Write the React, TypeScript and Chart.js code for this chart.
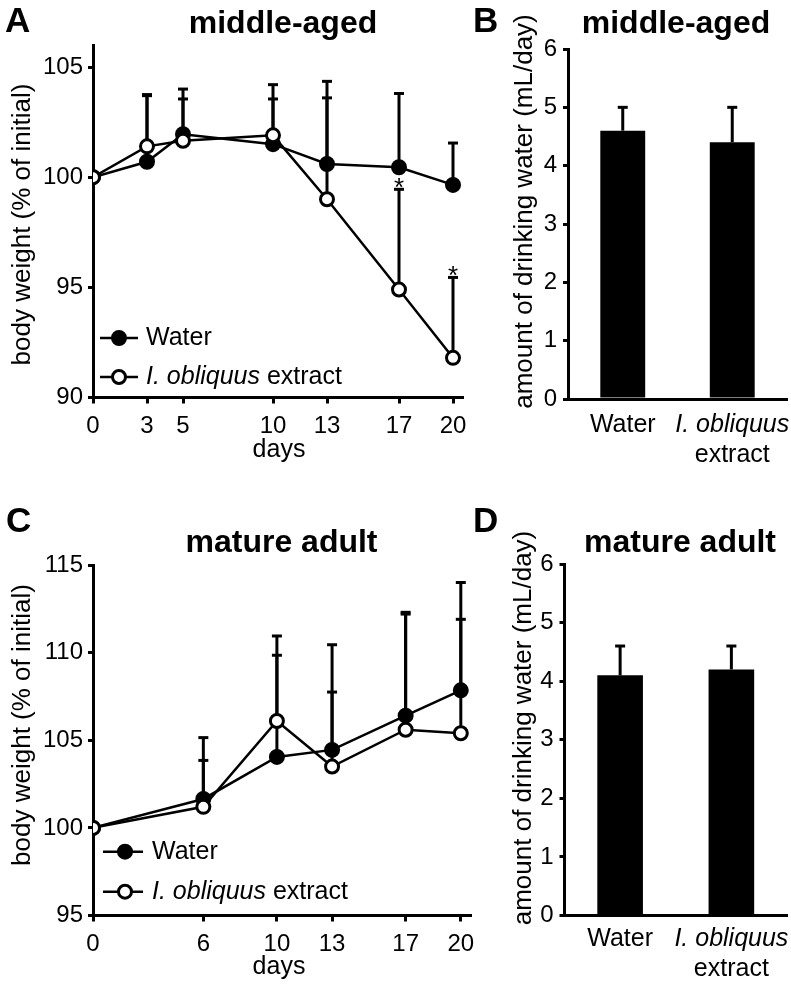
import React, { useEffect, useRef } from "react";
import { Chart, registerables } from "chart.js";

Chart.register(...registerables);

// ---------------- data ----------------
const daysA = [0, 3, 5, 10, 13, 17, 20];
const waterA = [100, 100.7, 101.95, 101.5, 100.6, 100.45, 99.65];
const waterAErr = [0, 3.05, 2.05, 2.7, 3.75, 3.35, 1.9];
const extractA = [100, 101.4, 101.65, 101.9, 99.0, 94.9, 91.8];
const extractAErr = [0, 2.3, 1.9, 1.65, 4.6, 4.55, 3.65];
const extractASig = [false, false, false, false, false, true, true];
const yTicksA = [90, 95, 100, 105];

const daysC = [0, 6, 10, 13, 17, 20];
const waterC = [100, 101.65, 104.05, 104.45, 106.4, 107.85];
const waterCErr = [0, 3.5, 5.8, 6.0, 5.9, 6.15];
const extractC = [100, 101.2, 106.1, 103.5, 105.6, 105.4];
const extractCErr = [0, 2.65, 4.85, 4.25, 6.6, 6.5];
const yTicksC = [95, 100, 105, 110, 115];

const groups = ["Water", "I. obliquus extract"];
const drinkB = [4.6, 4.4];
const drinkBErr = [0.4, 0.6];
const drinkD = [4.1, 4.2];
const drinkDErr = [0.5, 0.4];

// ---------------- styling / layout ----------------
const W = 791;
const H = 985;
const FONT = "'Liberation Sans', Arial, Helvetica, sans-serif";
const INK = "#000";
const Y_W = 60;
const X_H = 40;

type Part = { t: string; italic?: boolean };
type TextItem = {
  parts: Part[];
  x: number;
  y: number;
  size: number;
  bold?: boolean;
  align?: "left" | "center" | "right";
  rotate?: boolean;
};
type Area = { left: number; top: number; right: number; bottom: number };

const legendParts: Part[][] = [
  [{ t: "Water" }],
  [{ t: "I. obliquus", italic: true }, { t: " extract" }],
];
const groupLines: Part[][][] = [
  [[{ t: "Water" }]],
  [[{ t: "I. obliquus", italic: true }], [{ t: "extract" }]],
];

function fontStr(size: number, bold?: boolean, italic?: boolean) {
  return `${italic ? "italic " : ""}${bold ? "bold " : ""}${size}px ${FONT}`;
}

function drawRich(
  ctx: CanvasRenderingContext2D,
  parts: Part[],
  x: number,
  y: number,
  size: number,
  bold: boolean | undefined,
  align: "left" | "center" | "right",
  baseline: CanvasTextBaseline
) {
  const widths = parts.map((p) => {
    ctx.font = fontStr(size, bold, p.italic);
    return ctx.measureText(p.t).width;
  });
  const total = widths.reduce((a, b) => a + b, 0);
  let cx = align === "center" ? x - total / 2 : align === "right" ? x - total : x;
  ctx.textAlign = "left";
  ctx.textBaseline = baseline;
  ctx.fillStyle = INK;
  parts.forEach((p, i) => {
    ctx.font = fontStr(size, bold, p.italic);
    ctx.fillText(p.t, cx, y);
    cx += widths[i];
  });
}

function pad(a: Area) {
  return { left: a.left - Y_W, top: a.top, right: W - a.right, bottom: H - a.bottom - X_H };
}

// ---------------- plugins ----------------
function drawErrors(chart: any) {
  const ctx: CanvasRenderingContext2D = chart.ctx;
  const ys = chart.scales.y;
  chart.data.datasets.forEach((ds: any, i: number) => {
    const errs: number[] | undefined = ds.errors;
    if (!errs) return;
    const meta = chart.getDatasetMeta(i);
    meta.data.forEach((el: any, j: number) => {
      const e = errs[j];
      if (!e) return;
      const raw = ds.data[j];
      const v = typeof raw === "number" ? raw : raw.y;
      const x = el.x;
      const y0 = ys.getPixelForValue(v);
      const y1 = ys.getPixelForValue(v + e);
      ctx.save();
      ctx.strokeStyle = INK;
      ctx.lineWidth = 3;
      ctx.beginPath();
      ctx.moveTo(x, y0);
      ctx.lineTo(x, y1);
      ctx.stroke();
      ctx.beginPath();
      ctx.moveTo(x - 5, y1);
      ctx.lineTo(x + 5, y1);
      ctx.stroke();
      if (ds.sig && ds.sig[j]) {
        ctx.fillStyle = INK;
        ctx.font = fontStr(26);
        ctx.textAlign = "center";
        ctx.textBaseline = "alphabetic";
        ctx.fillText("*", x, y1 + 7);
      }
      ctx.restore();
    });
  });
}

const errorBars = {
  id: "errorBars",
  beforeDatasetsDraw(chart: any) {
    if (chart.config.type !== "bar") drawErrors(chart);
  },
  afterDatasetsDraw(chart: any) {
    if (chart.config.type === "bar") drawErrors(chart);
  },
};

function textPlugin(items: TextItem[]) {
  return {
    id: "texts",
    afterDraw(chart: any) {
      const ctx: CanvasRenderingContext2D = chart.ctx;
      items.forEach((it) => {
        ctx.save();
        if (it.rotate) {
          ctx.translate(it.x, it.y);
          ctx.rotate(-Math.PI / 2);
          drawRich(ctx, it.parts, 0, 0, it.size, it.bold, "center", "middle");
        } else {
          drawRich(ctx, it.parts, it.x, it.y, it.size, it.bold, it.align || "left", "alphabetic");
        }
        ctx.restore();
      });
    },
  };
}

type LegendGeom = { x1: number; x2: number; mx: number; tx: number; rows: number[] };

function legendPlugin(g: LegendGeom) {
  return {
    id: "customLegend",
    afterDraw(chart: any) {
      const ctx: CanvasRenderingContext2D = chart.ctx;
      chart.data.datasets.forEach((ds: any, i: number) => {
        const y = g.rows[i];
        ctx.save();
        ctx.strokeStyle = ds.borderColor;
        ctx.lineWidth = ds.borderWidth;
        ctx.beginPath();
        ctx.moveTo(g.x1, y);
        ctx.lineTo(g.x2, y);
        ctx.stroke();
        ctx.beginPath();
        ctx.arc(g.mx, y, ds.pointRadius, 0, Math.PI * 2);
        ctx.fillStyle = ds.pointBackgroundColor;
        ctx.fill();
        ctx.lineWidth = ds.pointBorderWidth;
        ctx.strokeStyle = ds.pointBorderColor;
        ctx.stroke();
        drawRich(ctx, legendParts[i], g.tx, y, 25, false, "left", "middle");
        ctx.restore();
      });
    },
  };
}

function groupLabelPlugin(baseY: number, gap: number) {
  return {
    id: "groupLabels",
    afterDraw(chart: any) {
      const ctx: CanvasRenderingContext2D = chart.ctx;
      const xs = chart.scales.x;
      groupLines.forEach((lines, i) => {
        const x = xs.getPixelForValue(i);
        lines.forEach((parts, k) => {
          ctx.save();
          drawRich(ctx, parts, x, baseY + k * gap, 25, false, "center", "alphabetic");
          ctx.restore();
        });
      });
    },
  };
}

// ---------------- chart builders ----------------
const tickFont = { size: 24, family: FONT, lineHeight: 1 };

function lineChart(
  canvas: HTMLCanvasElement,
  spec: {
    days: number[];
    water: number[];
    waterErr: number[];
    extract: number[];
    extractErr: number[];
    extractSig?: boolean[];
    yMin: number;
    yMax: number;
    yTicks: number[];
    area: Area;
    texts: TextItem[];
    legend: LegendGeom;
  }
) {
  const mk = (label: string, vals: number[], errs: number[], filled: boolean, sig?: boolean[]) => ({
    label,
    data: spec.days.map((d, i) => ({ x: d, y: vals[i] })),
    errors: errs,
    sig,
    borderColor: INK,
    borderWidth: 2.5,
    pointRadius: 6.5,
    pointBorderWidth: 3,
    pointBorderColor: INK,
    pointBackgroundColor: filled ? INK : "#fff",
    order: filled ? 1 : 0,
    tension: 0,
  });
  return new Chart(canvas, {
    type: "line",
    data: {
      datasets: [
        mk("Water", spec.water, spec.waterErr, true),
        mk("I. obliquus extract", spec.extract, spec.extractErr, false, spec.extractSig),
      ] as any,
    },
    options: {
      responsive: false,
      animation: false,
      devicePixelRatio: 1,
      layout: { padding: pad(spec.area) },
      plugins: { legend: { display: false }, tooltip: { enabled: false }, title: { display: false } },
      scales: {
        x: {
          type: "linear",
          min: 0,
          max: 20.5,
          afterBuildTicks: (s: any) => {
            s.ticks = spec.days.map((v) => ({ value: v }));
          },
          afterFit: (s: any) => {
            s.height = X_H;
          },
          ticks: { autoSkip: false, maxRotation: 0, font: tickFont, color: INK, padding: 11 },
          grid: { drawOnChartArea: false, drawTicks: true, tickLength: 6, color: INK, lineWidth: 3 },
          border: { display: true, color: INK, width: 3 },
        },
        y: {
          type: "linear",
          min: spec.yMin,
          max: spec.yMax,
          afterBuildTicks: (s: any) => {
            s.ticks = spec.yTicks.map((v) => ({ value: v }));
          },
          afterFit: (s: any) => {
            s.width = Y_W;
          },
          ticks: { font: tickFont, color: INK, padding: 5 },
          grid: { drawOnChartArea: false, drawTicks: true, tickLength: 5, color: INK, lineWidth: 3 },
          border: { display: true, color: INK, width: 3 },
        },
      },
    } as any,
    plugins: [errorBars, textPlugin(spec.texts), legendPlugin(spec.legend)],
  });
}

function barChart(
  canvas: HTMLCanvasElement,
  spec: { values: number[]; errs: number[]; area: Area; texts: TextItem[]; labelY: number; labelGap: number }
) {
  return new Chart(canvas, {
    type: "bar",
    data: {
      labels: groups,
      datasets: [
        {
          data: spec.values,
          errors: spec.errs,
          backgroundColor: INK,
          borderWidth: 0,
          barPercentage: 0.41,
          categoryPercentage: 1,
        } as any,
      ],
    },
    options: {
      responsive: false,
      animation: false,
      devicePixelRatio: 1,
      layout: { padding: pad(spec.area) },
      plugins: { legend: { display: false }, tooltip: { enabled: false }, title: { display: false } },
      scales: {
        x: {
          afterFit: (s: any) => {
            s.height = X_H;
          },
          ticks: { display: false },
          grid: { drawOnChartArea: false, drawTicks: false },
          border: { display: true, color: INK, width: 3 },
        },
        y: {
          min: 0,
          max: 6,
          afterFit: (s: any) => {
            s.width = Y_W;
          },
          ticks: { stepSize: 1, font: tickFont, color: INK, padding: 6 },
          grid: { drawOnChartArea: false, drawTicks: true, tickLength: 5, color: INK, lineWidth: 3 },
          border: { display: true, color: INK, width: 3 },
        },
      },
    } as any,
    plugins: [errorBars, textPlugin(spec.texts), groupLabelPlugin(spec.labelY, spec.labelGap)],
  });
}

// ---------------- components ----------------
function ChartCanvas({ build }: { build: (c: HTMLCanvasElement) => Chart }) {
  const ref = useRef<HTMLCanvasElement>(null);
  useEffect(() => {
    const ch = build(ref.current as HTMLCanvasElement);
    return () => ch.destroy();
  }, []);
  return (
    <canvas
      ref={ref}
      width={W}
      height={H}
      style={{ position: "absolute", left: 0, top: 0, width: W, height: H }}
    />
  );
}

const buildA = (c: HTMLCanvasElement) =>
  lineChart(c, {
    days: daysA,
    water: waterA,
    waterErr: waterAErr,
    extract: extractA,
    extractErr: extractAErr,
    extractSig: extractASig,
    yMin: 90,
    yMax: 106,
    yTicks: yTicksA,
    area: { left: 93, top: 45, right: 462, bottom: 397.5 },
    texts: [
      { parts: [{ t: "A" }], x: 5, y: 32, size: 35, bold: true },
      { parts: [{ t: "middle-aged" }], x: 283, y: 33, size: 32, bold: true, align: "center" },
      { parts: [{ t: "body weight (% of initial)" }], x: 23, y: 224.5, size: 26, rotate: true },
      { parts: [{ t: "days" }], x: 279, y: 456.5, size: 25, align: "center" },
    ],
    legend: { x1: 100, x2: 138, mx: 119, tx: 146, rows: [338, 377] },
  });

const buildB = (c: HTMLCanvasElement) =>
  barChart(c, {
    values: drinkB,
    errs: drinkBErr,
    area: { left: 568, top: 49, right: 787, bottom: 399 },
    texts: [
      { parts: [{ t: "B" }], x: 473, y: 32, size: 35, bold: true },
      { parts: [{ t: "middle-aged" }], x: 676, y: 33, size: 32, bold: true, align: "center" },
      { parts: [{ t: "amount of drinking water (mL/day)" }], x: 525, y: 211.5, size: 26, rotate: true },
    ],
    labelY: 431.5,
    labelGap: 30.5,
  });

const buildC = (c: HTMLCanvasElement) =>
  lineChart(c, {
    days: daysC,
    water: waterC,
    waterErr: waterCErr,
    extract: extractC,
    extractErr: extractCErr,
    yMin: 95,
    yMax: 115,
    yTicks: yTicksC,
    area: { left: 93, top: 565, right: 470, bottom: 915.5 },
    texts: [
      { parts: [{ t: "C" }], x: 6, y: 532, size: 35, bold: true },
      { parts: [{ t: "mature adult" }], x: 281.5, y: 552, size: 32, bold: true, align: "center" },
      { parts: [{ t: "body weight (% of initial)" }], x: 23, y: 725, size: 26, rotate: true },
      { parts: [{ t: "days" }], x: 279, y: 974, size: 25, align: "center" },
    ],
    legend: { x1: 103, x2: 143, mx: 125, tx: 152, rows: [851.7, 891.7] },
  });

const buildD = (c: HTMLCanvasElement) =>
  barChart(c, {
    values: drinkD,
    errs: drinkDErr,
    area: { left: 564.5, top: 564, right: 787, bottom: 915.5 },
    texts: [
      { parts: [{ t: "D" }], x: 473, y: 532, size: 35, bold: true },
      { parts: [{ t: "mature adult" }], x: 680, y: 552, size: 32, bold: true, align: "center" },
      { parts: [{ t: "amount of drinking water (mL/day)" }], x: 524, y: 728, size: 26, rotate: true },
    ],
    labelY: 946,
    labelGap: 29.5,
  });

export default function App() {
  useEffect(() => {
    document.body.style.margin = "0";
  }, []);
  return (
    <div style={{ position: "absolute", left: 0, top: 0, width: W, height: H, background: "#fff", overflow: "hidden" }}>
      <ChartCanvas build={buildA} />
      <ChartCanvas build={buildB} />
      <ChartCanvas build={buildC} />
      <ChartCanvas build={buildD} />
    </div>
  );
}
